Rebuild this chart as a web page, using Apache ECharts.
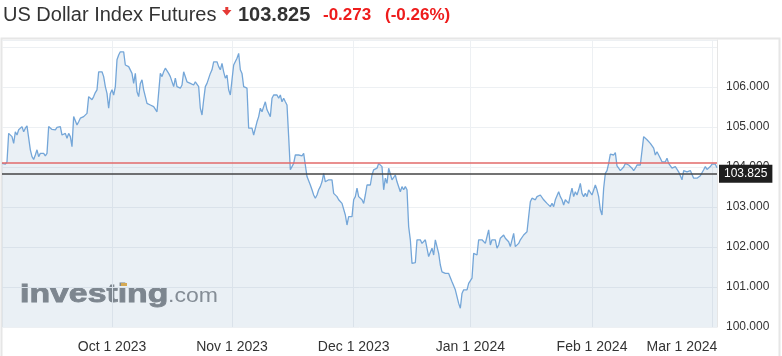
<!DOCTYPE html>
<html>
<head>
<meta charset="utf-8">
<script src="https://cdn.jsdelivr.net/npm/echarts@6/dist/echarts.min.js"></script>
<style>
html,body{margin:0;padding:0;background:#fff;}
#c{width:782px;height:356px;}
</style>
</head>
<body>
<div id="c"></div>
<script>
// Price trace, Sep 2023 -> Mar 2024 (intraday sampled)
const pricesA = [
104.09,104.09,104.07,104.13,104.84,104.80,104.76,104.59,104.88,104.80,
104.93,104.88,105.01,104.88,104.97,105.03,105.03,104.43,104.26,104.19,
104.30,104.43,104.26,104.34,104.30,104.34,104.28,104.34,105.01,105.05,
104.94,104.97,104.93,104.99,104.97,105.01,104.80,104.76,104.84,104.72,
104.84,104.76,104.51,105.26,105.30,105.05,105.13,105.22,105.26,105.26,
105.30,105.34,105.76,105.72,105.68,105.76,105.86,105.93,106.38,106.43,
106.38,106.26,106.01,105.84,105.47,105.84,105.93,105.80,106.01,106.68,
106.80,106.88,106.84,106.88,106.55,106.59,106.51,106.55,106.34,106.09,
106.34,105.88,105.76,106.09,106.18,105.93,105.88,105.59,105.63,105.55,
105.59,105.51,105.55,105.38,105.43,106.34,106.26,106.38,106.47,106.43,
106.34,106.26,106.22,106.01,106.22,106.01,105.97,105.97,106.05,106.38,
106.43,106.13,106.09,106.09,106.09,106.05,106.13,106.09,106.01,105.47,
105.30,105.68,106.01,106.09,106.05,106.34,106.43,106.63,106.66,106.63,
106.51,106.43,106.59,106.38,106.22,106.30,105.93,105.80,106.18,106.55,
106.59,106.72,106.84,106.43,106.34,106.01,105.97,105.97,104.97,104.93,
104.97,104.80,104.76,105.13,105.26,105.47,105.38,105.51,105.63,105.43,
105.38,105.26,105.72,105.80,105.76,105.80,105.72,105.80,105.63,105.72,
105.63,105.55,104.76,103.93,103.97,104.09,104.30,104.34,104.30,104.30
];
const pricesB = [
104.28,104.34,104.05,103.76,103.72,103.55,103.43,103.30,103.22,103.30,
103.43,103.51,103.63,103.84,103.63,103.68,103.68,103.68,103.68,103.34,
103.30,103.26,103.18,103.22,103.09,103.13,102.80,102.55,102.76,102.72,
102.76,103.18,103.26,103.47,103.26,103.30,103.18,103.09,103.30,103.55,
103.59,103.55,103.80,103.93,103.97,103.97,104.09,104.13,104.01,103.43,
103.72,103.59,103.97,103.97,103.68,103.68,103.80,103.63,103.59,103.38,
103.51,103.43,103.51,103.43,102.51,102.18,101.59,101.59,101.61,102.18,
102.22,102.18,102.09,102.13,102.18,102.18,101.76,101.80,101.97,101.80,
102.18,102.01,101.84,101.55,101.38,101.43,101.34,101.30,101.34,101.34,
101.13,101.13,100.93,100.76,100.59,100.47,100.84,100.93,100.88,100.93,
101.09,101.05,101.22,101.84,101.88,101.80,102.18,102.22,102.18,102.22,
102.09,102.26,102.43,102.05,102.18,102.22,102.18,101.97,102.05,102.22,
102.26,102.30,102.22,102.26,102.13,102.01,102.05,102.34,102.01,102.01,
102.09,102.18,102.18,102.30,102.34,102.38,102.76,103.13
];
const pricesC = [
103.22,103.26,103.18,103.26,103.22,103.30,103.26,103.18,103.13,103.09,
103.05,103.01,103.09,103.01,103.18,103.13,103.38,103.26,103.18,103.05,
103.18,103.13,103.09,103.30,103.47,103.26,103.38,103.30,103.43,103.59,
103.34,103.26,103.34,103.26,103.43,103.47,103.30,103.34,103.55,103.43,
103.26,102.93,102.80,103.47,103.84,103.91,104.09,104.32,104.30,104.30,
104.36,104.03,103.97,103.91,103.93,104.00,104.09,104.13,104.05,104.05,
103.97,103.91,103.97,104.05,104.05,104.05,104.09,104.76,104.80,104.68,
104.63,104.59,104.55,104.47,104.30,104.38,104.34,104.22,104.13,104.18,
104.13,104.22,104.09,104.13,103.97,103.93,104.01,103.97,103.88,103.93,
103.68,103.91,103.93,103.88,103.88,103.91,103.88,103.72,103.68,103.72,
103.69,103.78,103.83,103.93,104.01,103.94,103.93,104.01,104.07,104.05,
104.07,103.98
];
const prices = pricesA.concat(pricesB, pricesC);

// month tick positions (index into the sampled series) and their labels
const tickIndex = [66, 138, 211, 281, 354, 426];
const tickLabels = ['Oct 1 2023', 'Nov 1 2023', 'Dec 1 2023', 'Jan 1 2024', 'Feb 1 2024', 'Mar 1 2024'];
const categories = prices.map((_, i) => String(i));

const lastPrice = 103.825;
const prevClose = 104.098;
const change = '-0.273';
const changePct = '(-0.26%)';
const yTicks = [100, 101, 102, 103, 104, 105, 106];

const FONT = 'Arial, "Liberation Sans", sans-serif';
const chart = echarts.init(document.getElementById('c'), null, {renderer: 'canvas'});

chart.setOption({
  animation: false,
  backgroundColor: '#ffffff',
  grid: {left: 2, right: 65, top: 40, bottom: 29, containLabel: false, outerBoundsMode: 'none'},
  xAxis: {
    type: 'category',
    data: categories,
    boundaryGap: false,
    axisLine: {show: false},
    axisTick: {show: false},
    axisLabel: {
      interval: (i) => tickIndex.indexOf(i) >= 0,
      formatter: (v, i) => {
        const k = tickIndex.indexOf(Number(v));
        if (k < 0) return '';
        if (k === tickIndex.length - 1) return '{r|' + tickLabels[k] + '}';
        return tickLabels[k];
      },
      rich: {r: {fontSize: 14, color: '#333', fontFamily: FONT, padding: [0, 60, 0, 0]}},
      fontSize: 14, color: '#333', fontFamily: FONT, margin: 13
    },
    splitLine: {show: true, interval: (i) => tickIndex.indexOf(i) >= 0, lineStyle: {color: '#edf0f3', width: 1}}
  },
  yAxis: {
    type: 'value',
    position: 'right',
    min: 100, max: 107.175, interval: 1,
    axisLine: {show: true, lineStyle: {color: '#e6e6e6', width: 1}},
    axisTick: {show: false},
    axisLabel: {
      formatter: (v) => (yTicks.indexOf(v) >= 0 ? v.toFixed(3) : ''),
      fontSize: 12, color: '#333', fontFamily: FONT, margin: 9
    },
    splitLine: {show: true, lineStyle: {color: '#edf0f3', width: 1}}
  },
  series: [{
    type: 'line',
    data: prices,
    symbol: 'none',
    showSymbol: false,
    lineStyle: {color: '#74a6d8', width: 1.3},
    areaStyle: {color: 'rgba(60,110,160,0.15)', origin: 'start'},
    markLine: {
      silent: true,
      symbol: ['none', 'none'],
      data: [
        {yAxis: prevClose, lineStyle: {color: '#e26a6a', width: 1.5, type: 'solid'}, label: {show: false}},
        {yAxis: lastPrice, lineStyle: {color: '#444', width: 1.5, type: 'solid'},
         label: {show: true, position: 'end', distance: 2, formatter: lastPrice.toFixed(3),
                 backgroundColor: '#1f1f1f', color: '#fff', padding: [3, 5, 3, 5],
                 fontSize: 12, fontFamily: FONT}}
      ]
    }
  }],
  graphic: [
    {type: 'rect', shape: {x: 1.5, y: 38.5, width: 778, height: 330}, style: {fill: 'none', stroke: '#e6e6e6', lineWidth: 2}, silent: true, z: 0},
    {type: 'text', left: 3, top: 5, style: {text: 'US Dollar Index Futures', font: '20px ' + FONT, fill: '#333'}},
    {type: 'polygon', shape: {points: [[225.3, 7], [228.3, 7], [228.3, 10], [231.5, 10], [226.8, 15.5], [222.1, 10], [225.3, 10]]}, style: {fill: '#e53935'}},
    {type: 'text', left: 238, top: 5, style: {text: lastPrice.toFixed(3), font: 'bold 20px ' + FONT, fill: '#333'}},
    {type: 'text', left: 323, top: 7, style: {text: change, font: 'bold 17px ' + FONT, fill: '#ee1c1c'}},
    {type: 'text', left: 385, top: 7, style: {text: changePct, font: 'bold 17px ' + FONT, fill: '#ee1c1c'}},
    {type: 'text', x: 20, y: 281.5, scaleX: 1.3, style: {text: 'Investing', font: 'bold 26px "Liberation Sans"', fill: '#86898d', stroke: '#86898d', lineWidth: 0.8}},
    {type: 'rect', shape: {x: 121, y: 283, width: 6, height: 3}, style: {fill: '#e8b04a'}},
    {type: 'text', x: 168, y: 286.8, scaleX: 1.15, style: {text: '.com', font: '20px "Liberation Sans"', fill: '#8e9195'}}
  ]
});
</script>
</body>
</html>
